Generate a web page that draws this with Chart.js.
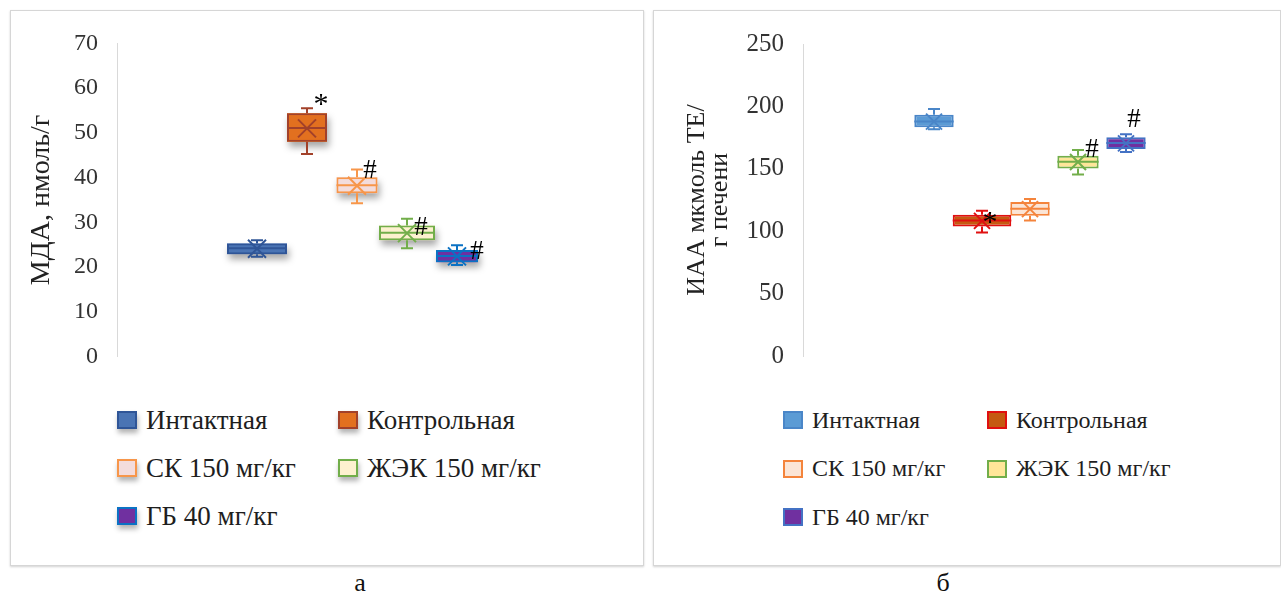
<!DOCTYPE html>
<html lang="ru">
<head>
<meta charset="utf-8">
<title>МДА и ИАА</title>
<script src="https://cdn.jsdelivr.net/npm/chart.js@4.4.1/dist/chart.umd.min.js"></script>
<style>
  html, body { margin: 0; padding: 0; background: #ffffff; }
  body { position: relative; width: 1281px; height: 598px; overflow: hidden; font-family: "Liberation Serif", "Times New Roman", serif; }
  .panel { position: absolute; box-sizing: border-box; border: 1px solid #d6d6d6; box-shadow: 0 1px 2px rgba(0,0,0,0.18); background: #fff; }
  canvas { position: absolute; }
  .leg { position: absolute; display: flex; align-items: center; white-space: nowrap; color: #1e1e1e; }
  .leg .sw { box-sizing: border-box; width: 20px; height: 18px; border: 2px solid; margin-right: 9px; flex: none; }
  .cap { position: absolute; font-size: 26px; color: #111; transform: translateX(-50%); }
</style>
</head>
<body>
<div class="panel" style="left:10px;top:10px;width:634px;height:556px"></div>
<div class="panel" style="left:653px;top:10px;width:628px;height:556px"></div>
<canvas id="chartA" width="633" height="380" style="left:10px;top:10px"></canvas>
<canvas id="chartB" width="628" height="380" style="left:653px;top:10px"></canvas>
<div class="cap" style="left:360px;top:568px">а</div>
<div class="cap" style="left:943px;top:568px">б</div>
<script>
// Groups shown in both panels
const categories = ['Интактная', 'Контрольная', 'СК 150 мг/кг', 'ЖЭК 150 мг/кг', 'ГБ 40 мг/кг'];

// МДА, нмоль/г — five-number summary and mean per group
const mdaMin    = [22.3, 45.3, 34.3, 24.2, 20.5];
const mdaQ1     = [22.9, 48.0, 36.5, 26.0, 21.1];
const mdaMedian = [24.2, 51.1, 38.3, 27.7, 22.5];
const mdaQ3     = [25.3, 54.4, 40.1, 29.3, 23.8];
const mdaMax    = [26.0, 55.5, 41.8, 30.8, 24.9];
const mdaMean   = [24.1, 51.0, 38.2, 27.6, 22.4];
const mdaMarks  = ['', '*', '#', '#', '#'];
const mdaTicks  = { min: 0, max: 70, step: 10 };

// ИАА, мкмоль ТЕ/г печени — five-number summary and mean per group
const iaaMin    = [181.6,  99.0, 108.5, 145.4, 163.5];
const iaaQ1     = [183.2, 103.8, 112.4, 150.2, 165.9];
const iaaMedian = [188.0, 108.5, 117.9, 155.7, 170.6];
const iaaQ3     = [193.4, 113.2, 123.4, 160.4, 175.3];
const iaaMax    = [198.0, 116.4, 125.8, 165.0, 177.7];
const iaaMean   = [187.8, 108.3, 117.7, 155.5, 170.4];
const iaaMarks  = ['', '*', '', '#', '#'];
const iaaTicks  = { min: 0, max: 250, step: 50 };

// Colour schemes of the two panels
const paletteA = {
  fill:   ['#4a74b4', '#e2701f', '#f3dcdc', '#fdf1cf', '#7030a0'],
  stroke: ['#2f5597', '#a2412a', '#f7964a', '#72ae4a', '#0b72c4']
};
const paletteB = {
  fill:   ['#5b9bd5', '#c55a11', '#fbe5d6', '#ffe699', '#7030a0'],
  stroke: ['#4a86c8', '#e01010', '#f4843c', '#72ae4a', '#4472c4']
};

// Draws whiskers, median lines, mean crosses and significance marks on top of the boxes
const boxDetails = {
  id: 'boxDetails',
  beforeDatasetsDraw(chart, args, opts) {
    if (!opts.shadow) return;
    const ctx = chart.ctx;
    ctx.save();
    ctx.shadowColor = 'rgba(0,0,0,0.35)';
    ctx.shadowBlur = 7;
    ctx.shadowOffsetX = 2;
    ctx.shadowOffsetY = 5;
    chart.data.datasets.forEach((ds, i) => {
      const bar = chart.getDatasetMeta(i).data[0];
      const top = Math.min(bar.y, bar.base), h = Math.abs(bar.base - bar.y);
      ctx.fillStyle = ds.backgroundColor;
      ctx.fillRect(bar.x - bar.width / 2, top, bar.width, h);
    });
    ctx.restore();
  },
  afterDatasetsDraw(chart, args, opts) {
    const ctx = chart.ctx;
    const ys = chart.scales.y;
    chart.data.datasets.forEach((ds, i) => {
      const bar = chart.getDatasetMeta(i).data[0];
      const x = bar.x, hw = bar.width / 2;
      const col = ds.borderColor;
      const pMin = ys.getPixelForValue(opts.min[i]);
      const pMax = ys.getPixelForValue(opts.max[i]);
      const pQ1 = ys.getPixelForValue(opts.q1[i]);
      const pQ3 = ys.getPixelForValue(opts.q3[i]);
      const pMed = ys.getPixelForValue(opts.median[i]);
      const pMean = ys.getPixelForValue(opts.mean[i]);
      ctx.save();
      ctx.strokeStyle = col;
      ctx.lineWidth = 2;
      ctx.lineCap = 'butt';
      // whiskers with caps
      ctx.beginPath();
      ctx.moveTo(x, pQ3); ctx.lineTo(x, pMax);
      ctx.moveTo(x - 6, pMax); ctx.lineTo(x + 6, pMax);
      ctx.moveTo(x, pQ1); ctx.lineTo(x, pMin);
      ctx.moveTo(x - 6, pMin); ctx.lineTo(x + 6, pMin);
      ctx.stroke();
      // median line
      ctx.beginPath();
      ctx.moveTo(x - hw, pMed); ctx.lineTo(x + hw, pMed);
      ctx.stroke();
      // mean marker (cross)
      const s = opts.crossSize;
      ctx.beginPath();
      ctx.moveTo(x - s, pMean - s); ctx.lineTo(x + s, pMean + s);
      ctx.moveTo(x - s, pMean + s); ctx.lineTo(x + s, pMean - s);
      ctx.stroke();
      // significance mark next to the upper whisker
      const mark = opts.marks[i];
      if (mark) {
        const off = opts.markOffset[i];
        ctx.fillStyle = '#000';
        ctx.font = (mark === '*' ? '30px' : '27px') + ' "Liberation Serif", serif';
        ctx.textAlign = 'center';
        ctx.textBaseline = 'middle';
        ctx.fillText(mark, x + off[0], pMax + off[1] + (mark === '*' ? 7 : 0));
      }
      ctx.restore();
    });
  }
};

function makeDatasets(q1, q3, palette, widths, catPct) {
  return categories.map((name, i) => ({
    label: name,
    data: [[q1[i], q3[i]]],
    backgroundColor: palette.fill[i],
    borderColor: palette.stroke[i],
    borderWidth: 2,
    borderSkipped: false,
    barPercentage: widths[i],
    categoryPercentage: catPct
  }));
}

function makeChart(id, cfg) {
  return new Chart(document.getElementById(id), {
    type: 'bar',
    data: {
      labels: [''],
      datasets: makeDatasets(cfg.q1, cfg.q3, cfg.palette, cfg.widths, cfg.catPct)
    },
    plugins: [boxDetails],
    options: {
      responsive: false,
      animation: false,
      devicePixelRatio: 1,
      layout: { padding: cfg.padding },
      plugins: {
        legend: { display: false },
        tooltip: { enabled: false },
        boxDetails: {
          min: cfg.min, q1: cfg.q1, median: cfg.median, q3: cfg.q3, max: cfg.max, mean: cfg.mean,
          marks: cfg.marks, markOffset: cfg.markOffset, crossSize: cfg.crossSize, shadow: cfg.shadow
        }
      },
      scales: {
        x: { display: false },
        y: {
          min: cfg.ticks.min,
          max: cfg.ticks.max,
          afterFit(scale) { scale.width = cfg.axisWidth; },
          ticks: {
            stepSize: cfg.ticks.step,
            padding: cfg.tickPad,
            color: '#333333',
            font: { family: '"Liberation Serif", serif', size: cfg.tickSize }
          },
          grid: { display: false, drawTicks: false },
          border: { display: true, color: '#d9d9d9', width: 1 },
          title: {
            display: true,
            text: cfg.title,
            color: '#222222',
            padding: { top: cfg.titlePad, bottom: 0 },
            font: { family: '"Liberation Serif", serif', size: cfg.titleSize, lineHeight: cfg.titleLine }
          }
        }
      }
    }
  });
}

makeChart('chartA', {
  min: mdaMin, q1: mdaQ1, median: mdaMedian, q3: mdaQ3, max: mdaMax, mean: mdaMean,
  marks: mdaMarks, ticks: mdaTicks, palette: paletteA,
  title: 'МДА, нмоль/г',
  widths: [1.2, 0.8, 0.82, 1.12, 0.84],
  catPct: 250 / 480,
  padding: { top: 33, right: 46, bottom: 29, left: 0 },
  axisWidth: 107, tickPad: 19, tickSize: 24,
  titlePad: 18, titleSize: 28, titleLine: 1.0,
  markOffset: [[0, 0], [14, -10], [13, 1], [14, 9], [20, 7]],
  crossSize: 9, shadow: true
});

makeChart('chartB', {
  min: iaaMin, q1: iaaQ1, median: iaaMedian, q3: iaaQ3, max: iaaMax, mean: iaaMean,
  marks: iaaMarks, ticks: iaaTicks, palette: paletteB,
  title: ['ИАА мкмоль ТЕ/', 'г печени'],
  widths: [0.82, 1.22, 0.82, 0.86, 0.82],
  catPct: 240 / 454,
  padding: { top: 33, right: 24, bottom: 29, left: 0 },
  axisWidth: 150, tickPad: 19, tickSize: 25,
  titlePad: 33, titleSize: 26, titleLine: 0.88,
  markOffset: [[0, 0], [8, 5], [0, 0], [14, 0], [8, -14]],
  crossSize: 8, shadow: false
});

// HTML legends laid out in two columns
function buildLegend(palette, origin, colGap, rowGap, fontSize, shadow) {
  categories.forEach((name, i) => {
    const item = document.createElement('div');
    item.className = 'leg';
    item.style.left = (origin[0] + (i % 2) * colGap) + 'px';
    item.style.top = (origin[1] + Math.floor(i / 2) * rowGap - 15) + 'px';
    item.style.height = '30px';
    item.style.fontSize = fontSize + 'px';
    const sw = document.createElement('span');
    sw.className = 'sw';
    sw.style.background = palette.fill[i];
    sw.style.borderColor = palette.stroke[i];
    if (shadow) sw.style.boxShadow = '1px 4px 5px rgba(0,0,0,0.3)';
    const txt = document.createElement('span');
    txt.textContent = name;
    item.appendChild(sw);
    item.appendChild(txt);
    document.body.appendChild(item);
  });
}
buildLegend(paletteA, [117, 420], 221, 48, 27, true);
buildLegend(paletteB, [783, 420], 204, 48.5, 24, false);
</script>
</body>
</html>
